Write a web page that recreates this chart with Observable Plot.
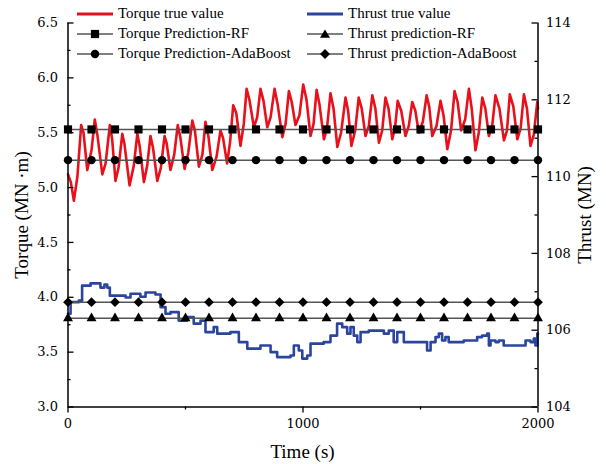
<!DOCTYPE html>
<html>
<head>
<meta charset="utf-8">
<script src="https://cdn.jsdelivr.net/npm/d3@7"></script>
<script src="https://cdn.jsdelivr.net/npm/@observablehq/plot@0.6"></script>
<style>
  html, body { margin: 0; padding: 0; background: #fff; }
  #wrap { position: relative; width: 606px; height: 464px; font-family: "Liberation Serif", serif; }
  #wrap svg.plot { position: absolute; left: 0; top: 0; }
  .lg { position: absolute; display: flex; align-items: center; height: 18px; font-size: 15px; color: #000; white-space: nowrap; }
  .lg svg { margin-right: 5px; }
  .ttl { position: absolute; font-size: 19px; color: #000; white-space: nowrap; transform: translate(-50%, -50%); }
  .ttl.rot { transform: translate(-50%, -50%) rotate(-90deg); }
</style>
</head>
<body>
<div id="wrap"></div>
<script>
// ---- data ----
const torqueTime = [0, 12, 25, 40, 56, 66, 82, 100, 114, 125, 146, 160, 178, 188, 202, 215, 231, 240, 262, 280, 295, 305, 323, 337, 351, 362, 380, 395, 411, 420, 436, 452, 467, 478, 496, 512, 529, 540, 557, 572, 585, 598, 614, 632, 649, 660, 677, 690, 703, 716, 734, 748, 760, 772, 791, 805, 819, 832, 848, 862, 879, 892, 912, 926, 940, 952, 968, 985, 1001, 1015, 1032, 1045, 1058, 1070, 1089, 1102, 1117, 1130, 1146, 1162, 1181, 1192, 1206, 1222, 1237, 1250, 1266, 1280, 1295, 1308, 1323, 1337, 1351, 1364, 1380, 1392, 1403, 1418, 1436, 1450, 1465, 1478, 1493, 1510, 1526, 1537, 1550, 1568, 1585, 1598, 1614, 1630, 1645, 1658, 1673, 1690, 1706, 1718, 1734, 1748, 1763, 1776, 1791, 1805, 1819, 1836, 1855, 1868, 1880, 1895, 1912, 1926, 1940, 1953, 1968, 1982, 1997, 2000];
const torqueValue = [5.12, 5.05, 4.88, 5.10, 5.57, 5.50, 5.16, 5.34, 5.62, 5.48, 5.12, 5.22, 5.57, 5.44, 5.06, 5.18, 5.49, 5.40, 5.02, 5.20, 5.49, 5.38, 5.05, 5.20, 5.47, 5.36, 5.06, 5.18, 5.47, 5.40, 5.16, 5.30, 5.57, 5.46, 5.17, 5.32, 5.61, 5.52, 5.19, 5.30, 5.60, 5.46, 5.16, 5.28, 5.52, 5.45, 5.22, 5.42, 5.75, 5.68, 5.38, 5.58, 5.90, 5.80, 5.55, 5.64, 5.90, 5.79, 5.55, 5.64, 5.90, 5.76, 5.46, 5.58, 5.88, 5.78, 5.57, 5.66, 5.94, 5.80, 5.47, 5.58, 5.89, 5.76, 5.44, 5.54, 5.86, 5.72, 5.37, 5.50, 5.82, 5.70, 5.38, 5.52, 5.82, 5.72, 5.47, 5.56, 5.84, 5.72, 5.41, 5.52, 5.82, 5.72, 5.44, 5.55, 5.79, 5.70, 5.47, 5.56, 5.78, 5.70, 5.50, 5.60, 5.84, 5.74, 5.47, 5.56, 5.79, 5.66, 5.35, 5.52, 5.88, 5.78, 5.52, 5.62, 5.90, 5.72, 5.34, 5.50, 5.82, 5.72, 5.47, 5.56, 5.84, 5.72, 5.43, 5.52, 5.85, 5.74, 5.44, 5.54, 5.85, 5.72, 5.38, 5.48, 5.78, 5.72];

const thrustTime = [0, 11, 46, 60, 96, 138, 155, 167, 178, 245, 266, 308, 330, 372, 394, 415, 436, 471, 507, 535, 564, 585, 620, 635, 691, 727, 763, 819, 862, 890, 947, 961, 982, 997, 1018, 1032, 1088, 1117, 1145, 1167, 1188, 1202, 1216, 1231, 1245, 1280, 1316, 1344, 1365, 1386, 1401, 1429, 1514, 1528, 1543, 1564, 1578, 1592, 1606, 1620, 1684, 1720, 1741, 1762, 1784, 1791, 1798, 1819, 1833, 1854, 1940, 1947, 1968, 1982, 1989, 1997, 2000];
const thrustValue = [106.43, 106.73, 106.77, 107.16, 107.22, 107.11, 107.19, 107.11, 106.90, 106.85, 106.95, 106.87, 106.98, 106.93, 106.60, 106.43, 106.47, 106.25, 106.34, 106.17, 106.25, 105.95, 106.08, 105.91, 105.95, 105.69, 105.52, 105.60, 105.43, 105.30, 105.34, 105.60, 105.47, 105.26, 105.34, 105.65, 105.69, 105.86, 106.17, 106.08, 105.91, 106.08, 105.86, 105.69, 105.95, 105.99, 105.99, 105.91, 105.99, 105.69, 105.95, 105.69, 105.69, 105.47, 105.69, 105.82, 105.91, 105.73, 105.82, 105.69, 105.73, 105.73, 105.82, 105.86, 105.91, 105.60, 105.73, 105.69, 105.73, 105.60, 105.60, 105.73, 105.69, 105.78, 105.60, 105.91, 105.91];

const torquePredRF = 5.53;
const torquePredAda = 5.25;
const thrustPredRF = 106.31;
const thrustPredAda = 106.73;
const markerTimes = [0, 100, 200, 300, 400, 500, 600, 700, 800, 900, 1000, 1100, 1200, 1300, 1400, 1500, 1600, 1700, 1800, 1900, 2000];

const torqueTicks = [3.0, 3.5, 4.0, 4.5, 5.0, 5.5, 6.0, 6.5];
const torqueMinor = [3.25, 3.75, 4.25, 4.75, 5.25, 5.75, 6.25];
const thrustTicks = [104, 106, 108, 110, 112, 114];
const thrustMinor = [105, 107, 109, 111, 113];
const timeTicks = [0, 1000, 2000];
const timeMinor = [500, 1500];

const axisTitles = {y: "Torque (MN ·m)", y2: "Thrust (MN)", x: "Time (s)"};

const legendItems = [
  {label: "Torque true value", kind: "line", color: "#e8101a"},
  {label: "Thrust true value", kind: "line", color: "#2b459e"},
  {label: "Torque Prediction-RF", kind: "square"},
  {label: "Thrust prediction-RF", kind: "triangle"},
  {label: "Torque Prediction-AdaBoost", kind: "circle"},
  {label: "Thrust prediction-AdaBoost", kind: "diamond"}
];

// ---- helpers ----
const RED = "#e8101a", BLUE = "#2b459e", GRAY = "#555";
const toY = th => 3 + (th - 104) * 0.35;   // thrust -> torque axis
const fromY = y => 104 + (y - 3) / 0.35;

const W = 606, H = 464, mL = 67.5, mR = 68.5, mT = 22.5, mB = 57.5;
const frameW = W - mL - mR;
const TICKFONT = "DejaVu Serif";

const torqueData = torqueTime.map((t, i) => ({t, v: torqueValue[i]}));
const thrustData = thrustTime.map((t, i) => ({t, v: toY(thrustValue[i])}));

const chart = Plot.plot({
  width: W, height: H,
  marginLeft: mL, marginRight: mR, marginTop: mT, marginBottom: mB,
  x: {domain: [0, 2000]},
  y: {domain: [3, 6.5]},
  style: {fontSize: "13px", fontFamily: TICKFONT, color: "#000", background: "#fff", overflow: "visible"},
  marks: [
    Plot.line(torqueData, {x: "t", y: "v", stroke: RED, strokeWidth: 2.6, strokeLinejoin: "round"}),
    Plot.line(thrustData, {x: "t", y: "v", stroke: BLUE, strokeWidth: 2.6, curve: "step-after"}),
    Plot.ruleY([torquePredRF, torquePredAda, toY(thrustPredRF), toY(thrustPredAda)], {stroke: GRAY, strokeWidth: 1.5}),
    Plot.dot(markerTimes, {x: d => d, y: () => torquePredRF, symbol: "square", r: 4.6, fill: "#000", stroke: "none"}),
    Plot.dot(markerTimes, {x: d => d, y: () => torquePredAda, symbol: "circle", r: 4.2, fill: "#000", stroke: "none"}),
    Plot.dot(markerTimes, {x: d => d, y: () => toY(thrustPredRF), symbol: "triangle", r: 3.7, fill: "#000", stroke: "none"}),
    Plot.dot(markerTimes, {x: d => d, y: () => toY(thrustPredAda), symbol: "diamond2", r: 4.4, fill: "#000", stroke: "none"}),
    // axis lines
    Plot.ruleX([0, 2000], {stroke: "#000", strokeWidth: 1.5}),
    Plot.ruleY([3], {stroke: "#000", strokeWidth: 1.5}),
    // inward ticks on left and right axes
    Plot.tickY(torqueTicks, {y: d => d, insetRight: frameW - 6, stroke: "#000", strokeWidth: 1.3}),
    Plot.tickY(torqueMinor, {y: d => d, insetRight: frameW - 3, stroke: "#000", strokeWidth: 1.3}),
    Plot.tickY(thrustTicks.map(toY), {y: d => d, insetLeft: frameW - 6, stroke: "#000", strokeWidth: 1.3}),
    Plot.tickY(thrustMinor.map(toY), {y: d => d, insetLeft: frameW - 3, stroke: "#000", strokeWidth: 1.3}),
    // tick labels
    Plot.axisY(torqueTicks, {anchor: "left", tickSize: 0, tickPadding: 10, tickFormat: d3.format(".1f"), label: null, fontSize: 13, fontFamily: TICKFONT}),
    Plot.axisY(thrustTicks.map(toY), {anchor: "right", tickSize: 0, tickPadding: 8, tickFormat: d => String(Math.round(fromY(d))), label: null, fontSize: 13, fontFamily: TICKFONT}),
    Plot.axisX(timeTicks, {anchor: "bottom", tickSize: 6, tickPadding: 6, tickFormat: d3.format("d"), label: null, fontSize: 13, fontFamily: TICKFONT, strokeWidth: 1.3}),
    Plot.axisX(timeMinor, {anchor: "bottom", tickSize: 3, tickFormat: () => "", label: null, strokeWidth: 1.3})
  ]
});
chart.classList.add("plot");
const wrap = document.getElementById("wrap");
wrap.appendChild(chart);

// ---- axis titles (HTML, positioned around the frame) ----
function title(text, left, top, rot) {
  const d = document.createElement("div");
  d.className = "ttl" + (rot ? " rot" : "");
  d.style.left = left + "px";
  d.style.top = top + "px";
  d.textContent = text;
  wrap.appendChild(d);
}
const midY = mT + (H - mT - mB) / 2;
title(axisTitles.y, 22, midY, true);
title(axisTitles.y2, 585, midY, true);
title(axisTitles.x, mL + frameW / 2, 452, false);

// ---- legend (HTML overlay inside the plot area) ----
const cols = [77, 307];
const rows = [13.5, 33.5, 53.5];
function icon(item) {
  const ns = "http://www.w3.org/2000/svg";
  const s = document.createElementNS(ns, "svg");
  s.setAttribute("width", 36); s.setAttribute("height", 14);
  const line = document.createElementNS(ns, "line");
  line.setAttribute("x1", 0); line.setAttribute("x2", 36);
  line.setAttribute("y1", 7); line.setAttribute("y2", 7);
  if (item.kind === "line") {
    line.setAttribute("stroke", item.color); line.setAttribute("stroke-width", 3);
  } else {
    line.setAttribute("stroke", GRAY); line.setAttribute("stroke-width", 1.5);
  }
  s.appendChild(line);
  let m = null;
  if (item.kind === "square") {
    m = document.createElementNS(ns, "rect");
    m.setAttribute("x", 18 - 4.1); m.setAttribute("y", 7 - 4.1); m.setAttribute("width", 8.2); m.setAttribute("height", 8.2);
  } else if (item.kind === "circle") {
    m = document.createElementNS(ns, "circle");
    m.setAttribute("cx", 18); m.setAttribute("cy", 7); m.setAttribute("r", 4.2);
  } else if (item.kind === "triangle") {
    m = document.createElementNS(ns, "path");
    m.setAttribute("d", "M18,2.5L23,10.8L13,10.8Z");
  } else if (item.kind === "diamond") {
    m = document.createElementNS(ns, "path");
    m.setAttribute("d", "M18,2L23,7L18,12L13,7Z");
  }
  if (m) { m.setAttribute("fill", "#000"); s.appendChild(m); }
  return s;
}
legendItems.forEach((item, i) => {
  const d = document.createElement("div");
  d.className = "lg";
  d.style.left = cols[i % 2] + "px";
  d.style.top = (rows[Math.floor(i / 2)] - 9) + "px";
  d.appendChild(icon(item));
  const sp = document.createElement("span");
  sp.textContent = item.label;
  d.appendChild(sp);
  wrap.appendChild(d);
});
</script>
</body>
</html>
